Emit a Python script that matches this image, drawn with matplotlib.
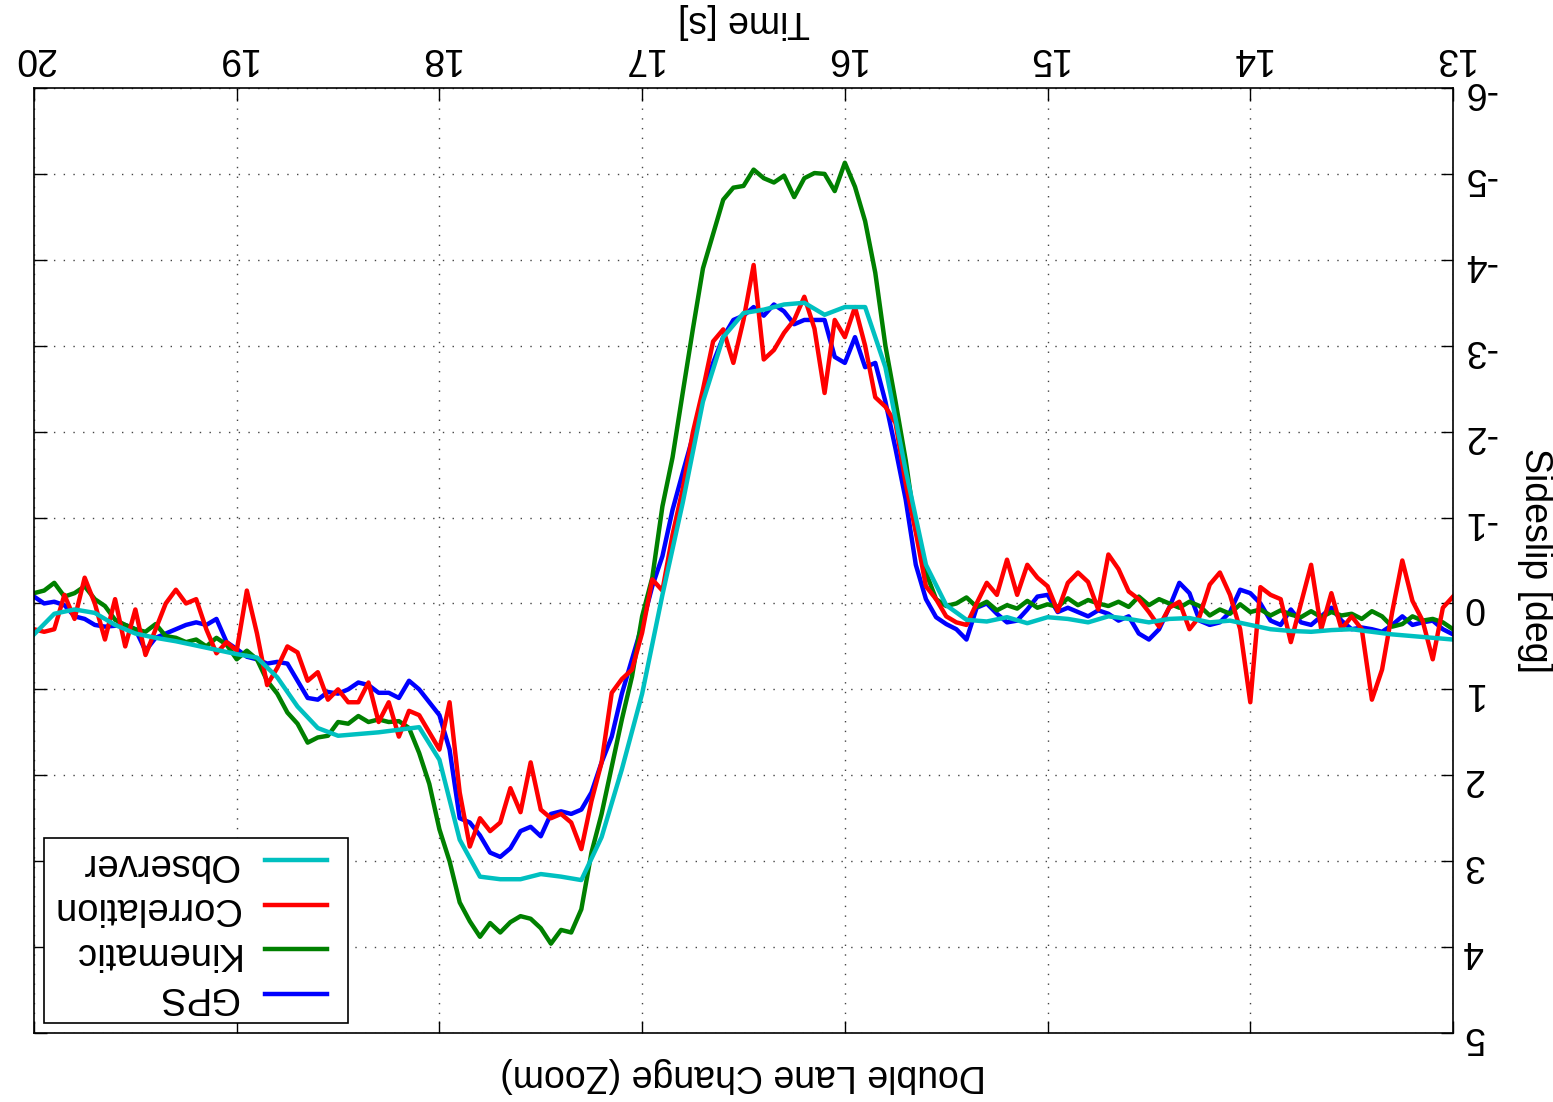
import numpy as np
import matplotlib.pyplot as plt
from matplotlib.legend_handler import HandlerLine2D

plt.rcParams['font.family'] = ['Liberation Sans', 'DejaVu Sans']
plt.rcParams['axes.unicode_minus'] = False

# time bases (s)
t_fast = np.round(np.arange(13.0, 20.0001, 0.05), 2)
t_slow = np.round(np.arange(13.0, 20.0001, 0.1), 1)

# sideslip estimates (deg)
gps = [0.36, 0.30, 0.20, 0.22, 0.25, 0.15, 0.25, 0.33, 0.30, 0.28, 0.30, 0.20, 0.05, 0.15, 0.25, 0.22, 0.07, 0.25, 0.20, 0.00,
       -0.12, -0.16, 0.10, 0.22, 0.25, 0.20, -0.12, -0.24, 0.05, 0.30, 0.42, 0.35, 0.15, 0.20, 0.12, 0.08, 0.15, 0.10, 0.05, 0.10,
       -0.10, -0.08, 0.07, 0.20, 0.22, 0.12, 0.00, 0.05, 0.42, 0.30, 0.24, 0.16, -0.05, -0.45, -1.21, -1.80, -2.35, -2.80, -2.75, -3.10,
       -2.80, -2.87, -3.30, -3.30, -3.30, -3.25, -3.40, -3.48, -3.35, -3.45, -3.35, -3.30, -3.10, -2.80, -2.45, -1.94, -1.52, -1.09, -0.55, -0.20,
       0.25, 0.65, 1.05, 1.55, 1.85, 2.20, 2.40, 2.45, 2.42, 2.45, 2.71, 2.60, 2.65, 2.85, 2.95, 2.90, 2.70, 2.55, 2.50, 1.70,
       1.30, 1.15, 1.00, 0.90, 1.10, 1.04, 1.04, 0.95, 0.92, 1.00, 1.05, 1.03, 1.12, 1.10, 0.90, 0.70, 0.68, 0.70, 0.65, 0.62,
       0.53, 0.45, 0.18, 0.25, 0.22, 0.25, 0.30, 0.35, 0.40, 0.55, 0.30, 0.25, 0.26, 0.27, 0.25, 0.18, 0.15, 0.02, -0.02, 0.00,
       -0.08]

kinematic = [0.30, 0.22, 0.18, 0.20, 0.15, 0.24, 0.27, 0.15, 0.09, 0.18, 0.12, 0.14, 0.10, 0.16, 0.09, 0.16, 0.13, 0.08, 0.14, 0.07,
             0.10, 0.01, 0.12, 0.07, 0.14, 0.03, -0.02, 0.05, 0.00, -0.05, 0.02, -0.08, 0.04, -0.02, 0.03, 0.00, -0.04, 0.02, -0.06, 0.04,
             0.01, 0.05, -0.03, 0.06, 0.02, 0.08, -0.02, 0.04, -0.07, 0.00, 0.03, -0.05, -0.36, -0.85, -1.67, -2.35, -3.00, -3.85, -4.45, -4.85,
             -5.13, -4.80, -5.00, -5.01, -4.95, -4.73, -4.98, -4.90, -4.95, -5.05, -4.86, -4.84, -4.70, -4.30, -3.90, -3.19, -2.45, -1.70, -1.13, -0.30,
             0.15, 0.85, 1.35, 1.90, 2.45, 2.90, 3.56, 3.83, 3.80, 3.96, 3.78, 3.67, 3.64, 3.71, 3.83, 3.72, 3.88, 3.70, 3.48, 3.00,
             2.63, 2.10, 1.74, 1.45, 1.37, 1.38, 1.35, 1.38, 1.31, 1.40, 1.38, 1.54, 1.56, 1.62, 1.40, 1.27, 1.05, 0.90, 0.65, 0.55,
             0.65, 0.48, 0.40, 0.50, 0.42, 0.45, 0.40, 0.38, 0.24, 0.33, 0.30, 0.25, 0.19, 0.03, -0.05, -0.20, -0.12, -0.08, -0.24, -0.15,
             -0.12]

correlation = [-0.08, 0.05, 0.65, 0.20, -0.03, -0.50, 0.10, 0.77, 1.12, 0.30, 0.15, 0.30, -0.12, 0.30, -0.45, 0.00, 0.45, -0.05, -0.10, -0.19,
               1.15, 0.30, -0.10, -0.36, -0.22, 0.15, 0.30, -0.02, 0.05, 0.27, 0.10, -0.05, -0.14, -0.40, -0.57, 0.07, -0.25, -0.36, -0.24, 0.09,
               -0.20, -0.30, -0.45, -0.10, -0.51, -0.10, -0.24, 0.00, 0.25, 0.22, 0.15, -0.05, -0.20, -0.83, -1.40, -2.10, -2.29, -2.40, -3.00, -3.45,
               -3.10, -3.30, -2.45, -3.20, -3.57, -3.30, -3.15, -2.95, -2.84, -3.94, -3.30, -2.80, -3.19, -3.05, -2.49, -1.99, -1.33, -0.80, -0.15, -0.28,
               0.34, 0.77, 0.88, 1.04, 1.85, 2.30, 2.86, 2.55, 2.45, 2.50, 2.40, 1.85, 2.43, 2.15, 2.55, 2.65, 2.50, 2.83, 2.20, 1.15,
               1.70, 1.50, 1.30, 1.25, 1.55, 1.15, 1.38, 0.92, 1.15, 1.15, 1.00, 1.12, 0.80, 0.90, 0.57, 0.50, 0.75, 0.95, 0.35, -0.15,
               0.55, 0.45, 0.58, 0.30, -0.05, 0.00, -0.16, 0.00, 0.30, 0.60, 0.07, 0.50, -0.05, 0.42, 0.00, -0.30, 0.18, -0.10, 0.30, 0.33,
               0.30]

observer = [0.42, 0.40, 0.38, 0.36, 0.33, 0.30, 0.31, 0.33, 0.32, 0.30,
            0.25, 0.20, 0.22, 0.17, 0.18, 0.22, 0.18, 0.15, 0.22, 0.18,
            0.16, 0.23, 0.16, 0.21, 0.19, 0.02, -0.45, -1.55, -2.75, -3.45,
            -3.45, -3.36, -3.50, -3.48, -3.42, -3.38, -3.10, -2.35, -1.17, -0.10,
            1.05, 1.93, 2.72, 3.22, 3.18, 3.15, 3.21, 3.21, 3.18, 2.75,
            1.82, 1.44, 1.47, 1.50, 1.52, 1.54, 1.45, 1.20, 0.86, 0.63,
            0.59, 0.54, 0.49, 0.44, 0.40, 0.35, 0.25, 0.11, 0.07, 0.12,
            0.36]


class ShortLineHandler(HandlerLine2D):
    # leaves a little room to the right of each legend sample line
    def create_artists(self, legend, orig_handle, xdescent, ydescent, width, height, fontsize, trans):
        return super().create_artists(legend, orig_handle, xdescent, ydescent,
                                      width - 0.35 * fontsize, height, fontsize, trans)


fs = 27
fig = plt.figure(figsize=(15.53, 11.02), dpi=100)
ax = fig.add_axes([34 / 1553, 69 / 1102, 1419 / 1553, 945 / 1102])

l_gps, = ax.plot(t_fast, gps, color='#0000ff', lw=3.2)
l_kin, = ax.plot(t_fast, kinematic, color='#008000', lw=3.2)
l_cor, = ax.plot(t_fast, correlation, color='#ff0000', lw=3.2)
l_obs, = ax.plot(t_slow, observer, color='#00c0c0', lw=3.2)

# the whole chart is shown turned upside down
ax.set_xlim(20, 13)
ax.set_ylim(5, -6)
ax.set_xticks(np.arange(13, 21, 1))
ax.set_yticks(np.arange(-6, 6, 1))
ax.xaxis.tick_top()
ax.yaxis.tick_right()
ax.tick_params(direction='in', length=9, width=1, top=True, bottom=True, left=True, right=True,
               labeltop=True, labelbottom=False, labelleft=False, labelright=True,
               labelsize=fs, labelrotation=180)
ax.tick_params(axis='x', pad=9)
ax.tick_params(axis='y', pad=7)
ax.grid(True, color='#444444', linestyle=(0, (1, 6)), lw=1)
for s in ax.spines.values():
    s.set_linewidth(1.2)

ax.xaxis.set_label_position('top')
ax.set_xlabel('Time [s]', fontsize=fs, rotation=180, va='center', ha='center')
ax.xaxis.set_label_coords(0.5, (1033 - 21) / 945)
ax.yaxis.set_label_position('right')
ax.set_ylabel('Sideslip [deg]', fontsize=fs, rotation=270, va='center', ha='center')
ax.yaxis.set_label_coords((1535 - 34) / 1419, 0.5)
ax.text(0.5, (1033 - 1075) / 945, 'Double Lane Change (Zoom)', transform=ax.transAxes,
        fontsize=fs, rotation=180, ha='center', va='center')

leg = ax.legend([l_obs, l_cor, l_kin, l_gps], ['Observer', 'Correlation', 'Kinematic', 'GPS'],
                loc='lower left', bbox_to_anchor=(0.007, 0.011), borderaxespad=0,
                markerfirst=False, fontsize=27.5, fancybox=False, framealpha=1,
                edgecolor='black', handlelength=1.97, handletextpad=0.7,
                labelspacing=0.22, borderpad=0.2,
                handler_map={l: ShortLineHandler() for l in [l_obs, l_cor, l_kin, l_gps]})
leg.get_frame().set_linewidth(1.2)
for txt in leg.get_texts():
    txt.set_rotation(180)

fig.savefig('out.png', dpi=100)
